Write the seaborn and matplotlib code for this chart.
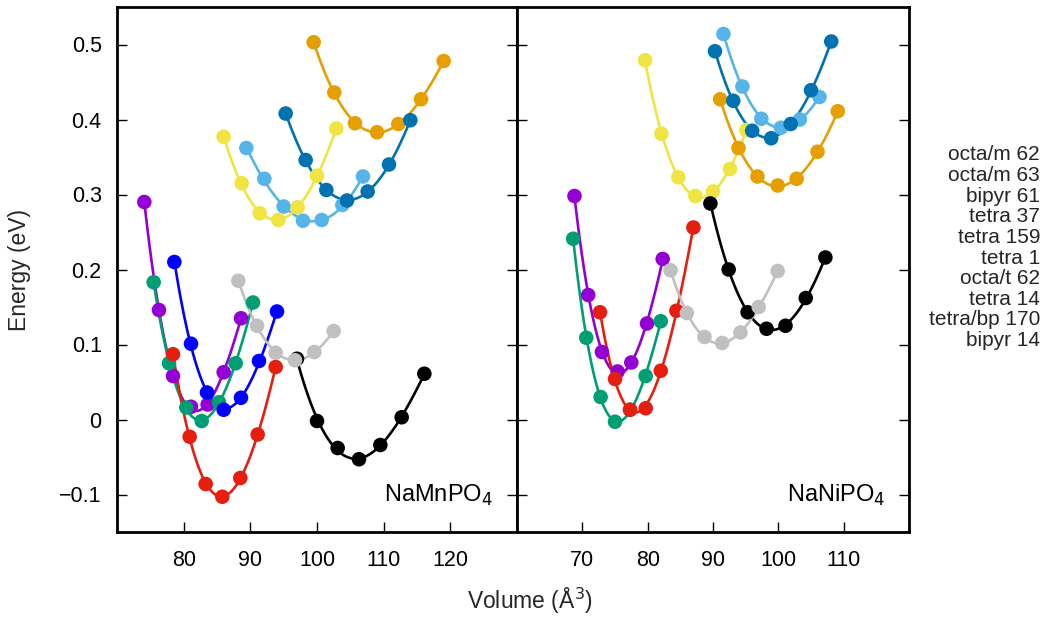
import numpy as np
import pandas as pd
import matplotlib
matplotlib.use("Agg")
import matplotlib.pyplot as plt
import seaborn as sns
from matplotlib.ticker import FuncFormatter

# labels shown in the key (text only, no samples in the original)
labels = ["octa/m 62", "octa/m 63", "bipyr 61", "tetra 37", "tetra 159",
          "tetra 1", "octa/t 62", "tetra 14", "tetra/bp 170", "bipyr 14"]

series = ["purple", "green", "lightblue", "orange", "yellow",
          "darkblue", "red", "black", "blue", "gray"]
colors = ["#9400d3", "#009e73", "#56b4e9", "#e69f00", "#f0e442",
          "#0072b2", "#e51e10", "#000000", "#0000ff", "#c0c0c0"]

# NaMnPO4 (left panel)
mn_vol = [
    [74.1, 76.3, 78.4, 81.1, 83.6, 86.0, 88.6],
    [75.5, 77.8, 80.4, 82.7, 85.3, 87.8, 90.4],
    [89.4, 92.1, 95.0, 97.9, 100.7, 103.8, 106.9],
    [99.5, 102.6, 105.7, 109.0, 112.2, 115.6, 119.0],
    [86.0, 88.7, 91.4, 94.2, 97.1, 100.0, 102.9],
    [95.3, 98.3, 101.4, 104.5, 107.6, 110.8, 114.0],
    [78.4, 80.9, 83.3, 85.8, 88.5, 91.1, 93.8],
    [97.0, 100.0, 103.1, 106.3, 109.5, 112.7, 116.1],
    [78.6, 81.1, 83.5, 86.0, 88.6, 91.3, 94.0],
    [88.2, 91.0, 93.8, 96.7, 99.6, 102.5],
]
mn_en = [
    [0.290, 0.146, 0.058, 0.017, 0.020, 0.063, 0.135],
    [0.183, 0.075, 0.016, -0.002, 0.023, 0.075, 0.156],
    [0.362, 0.321, 0.284, 0.265, 0.266, 0.286, 0.324],
    [0.503, 0.436, 0.395, 0.383, 0.394, 0.427, 0.478],
    [0.377, 0.315, 0.275, 0.266, 0.283, 0.325, 0.388],
    [0.408, 0.346, 0.306, 0.292, 0.304, 0.340, 0.399],
    [0.087, -0.023, -0.086, -0.103, -0.078, -0.020, 0.070],
    [0.081, -0.002, -0.038, -0.053, -0.034, 0.003, 0.061],
    [0.210, 0.101, 0.036, 0.013, 0.029, 0.078, 0.144],
    [0.185, 0.125, 0.089, 0.079, 0.090, 0.118],
]

# NaNiPO4 (right panel), no blue series
ni_vol = [
    [68.8, 70.9, 73.0, 75.4, 77.5, 79.9, 82.3],
    [68.6, 70.6, 72.8, 75.0, 77.3, 79.7, 82.0],
    [91.6, 94.5, 97.4, 100.4, 103.3, 106.3],
    [91.1, 93.9, 96.8, 99.9, 102.8, 106.0, 109.1],
    [79.6, 82.1, 84.7, 87.3, 90.0, 92.6, 95.1],
    [90.3, 93.1, 96.0, 98.9, 101.9, 105.0, 108.1],
    [72.7, 75.0, 77.3, 79.7, 82.0, 84.4, 87.0],
    [89.6, 92.4, 95.3, 98.2, 101.1, 104.2, 107.2],
    [],
    [83.5, 86.0, 88.7, 91.4, 94.2, 97.0, 99.9],
]
ni_en = [
    [0.298, 0.166, 0.090, 0.064, 0.076, 0.128, 0.214],
    [0.241, 0.109, 0.030, -0.003, 0.013, 0.058, 0.131],
    [0.514, 0.444, 0.401, 0.389, 0.400, 0.430],
    [0.427, 0.362, 0.324, 0.312, 0.321, 0.357, 0.411],
    [0.479, 0.381, 0.323, 0.298, 0.304, 0.334, 0.386],
    [0.491, 0.425, 0.385, 0.375, 0.394, 0.439, 0.504],
    [0.143, 0.054, 0.013, 0.015, 0.065, 0.145, 0.256],
    [0.288, 0.200, 0.143, 0.121, 0.125, 0.162, 0.216],
    [],
    [0.199, 0.142, 0.110, 0.102, 0.116, 0.150, 0.198],
]

rows = []
for panel, vols, ens in [("Mn", mn_vol, mn_en), ("Ni", ni_vol, ni_en)]:
    for name, v, e in zip(series, vols, ens):
        for x, y in zip(v, e):
            rows.append((panel, name, x, y))
df = pd.DataFrame(rows, columns=["panel", "series", "volume", "energy"])

sns.set_theme(style="ticks")
plt.rcParams["font.family"] = ["Liberation Sans", "DejaVu Sans"]
plt.rcParams["axes.unicode_minus"] = True

fig = plt.figure(figsize=(10.58, 6.18), dpi=100)
ax1 = fig.add_axes([117 / 1058, 86 / 618, 400 / 1058, 525 / 618])
ax2 = fig.add_axes([517 / 1058, 86 / 618, 392 / 1058, 525 / 618])
palette = dict(zip(series, colors))

def yfmt(v, pos):
    s = f"{v:.1f}".rstrip("0").rstrip(".")
    if s in ("-0", "0"):
        return "0"
    return s.replace("-", "\u2212")

for ax, panel, xlim, xticks, name in [
        (ax1, "Mn", (70, 130), [80, 90, 100, 110, 120], "NaMnPO$_4$"),
        (ax2, "Ni", (60, 120), [70, 80, 90, 100, 110], "NaNiPO$_4$")]:
    sub = df[df.panel == panel]
    # fitted curves through each series
    for s in series:
        d = sub[sub.series == s]
        if len(d) < 4:
            continue
        c = np.polyfit(d.volume, d.energy, 3)
        xs = np.linspace(d.volume.min(), d.volume.max(), 100)
        ax.plot(xs, np.polyval(c, xs), color=palette[s], lw=1.9, zorder=2)
    sns.scatterplot(data=sub, x="volume", y="energy", hue="series",
                    palette=palette, s=110, linewidth=0, legend=False,
                    ax=ax, zorder=3)
    ax.set_xlim(*xlim)
    ax.set_ylim(-0.15, 0.55)
    ax.set_xticks(xticks)
    ax.set_yticks([-0.1, 0, 0.1, 0.2, 0.3, 0.4, 0.5])
    ax.yaxis.set_major_formatter(FuncFormatter(yfmt))
    ax.set_xlabel("")
    ax.set_ylabel("")
    ax.tick_params(direction="in", length=7, width=1, labelsize=15.5,
                   color="black", labelcolor="black", right=True, pad=11)
    ax.tick_params(axis="x", pad=13)
    for sp in ax.spines.values():
        sp.set_visible(True)
        sp.set_linewidth(2)
        sp.set_color("black")
    ax.text(0.94, 0.07, name, transform=ax.transAxes, ha="right",
            va="center", fontsize=17, color="black")

ax2.tick_params(labelleft=False)

fig.text(0.501, 9 / 618, "Volume (\u00c5$^3$)", ha="center",
         va="baseline", fontsize=16.5)
fig.text(0.018, 0.563, "Energy (eV)", rotation=90, ha="center",
         va="center", fontsize=16.5)

for i, lab in enumerate(labels):
    fig.text(1040 / 1058, (618 - 155 - i * 20.6) / 618, lab, ha="right",
             va="center", fontsize=15)

fig.savefig("out.png", dpi=100)
